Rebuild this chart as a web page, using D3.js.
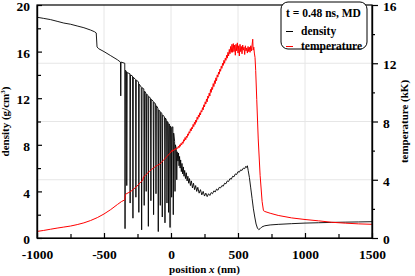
<!DOCTYPE html>
<html>
<head>
<meta charset="utf-8">
<script src="https://cdn.jsdelivr.net/npm/d3@7"></script>
<style>
  body { margin: 0; background: #fff; }
  svg text { font-family: "Liberation Serif", "Times New Roman", serif; font-weight: bold; }
</style>
</head>
<body>
<div id="my_dataviz"></div>
<script>
// position x (nm) / density (g/cm3) pairs
var densityPts = [
    [-1000, 18.95], [-950, 18.85], [-900, 18.75], [-850, 18.6], [-800, 18.45], [-750, 18.35],
    [-700, 18.2], [-650, 18.05], [-600, 17.85], [-570, 17.7], [-558, 17.6], [-552, 16.4],
    [-540, 16.25], [-500, 16.0], [-450, 15.65], [-400, 15.3], [-377, 15.1], [-375, 12.2],
    [-373, 15.1], [-345, 15.0],
    // comb of voids
    [-343, 0.8], [-340, 14.4], [-332, 14.3], [-330, 4.5], [-327, 14.2], [-307, 14.1], [-305, 3.0],
    [-302, 14.0], [-287, 13.9], [-284, 1.7], [-281, 13.8], [-264, 13.6], [-262, 3.5], [-259, 13.55],
    [-242, 13.4], [-240, 2.2], [-237, 13.2], [-222, 12.95], [-219, 0.7], [-216, 12.9], [-203, 12.8],
    [-200, 2.8], [-197, 12.6], [-188, 12.45], [-185, 4.0], [-182, 12.35], [-172, 12.25], [-169, 1.0],
    [-166, 12.15], [-153, 12.0], [-150, 3.2], [-147, 11.9], [-133, 11.75], [-130, 2.0], [-127, 11.65],
    [-115, 11.5], [-112, 3.8], [-109, 11.35], [-98, 11.15], [-95, 0.55], [-92, 11.0], [-83, 10.9],
    [-80, 2.8], [-77, 10.8], [-68, 10.7], [-65, 1.8], [-62, 10.55], [-48, 10.4], [-45, 1.3],
    [-42, 10.3], [-33, 10.1], [-30, 3.0], [-27, 10.0], [-21, 9.9], [-18, 2.2], [-15, 9.8],
    [-10, 9.7], [-7, 0.9], [-4, 9.6], [2, 9.5], [5, 3.5], [8, 9.5], [14, 9.55], [17, 2.0],
    [20, 9.0], [27, 8.3], [30, 4.0], [33, 8.0], [40, 7.6], [43, 5.0], [46, 7.4],
    // noisy decay and hump
    [52, 6.6], [56, 7.3], [60, 6.2], [64, 7.0], [68, 6.0], [72, 6.7], [77, 5.7], [82, 6.4],
    [87, 5.5], [92, 6.1], [97, 5.3], [102, 5.8], [108, 5.1], [114, 5.6], [120, 4.9], [126, 5.3],
    [132, 4.7], [138, 5.1], [145, 4.5], [152, 4.9], [160, 4.3], [168, 4.7], [176, 4.15], [184, 4.5],
    [192, 4.0], [200, 4.35], [210, 3.85], [220, 4.15], [230, 3.7], [240, 4.0], [250, 3.6], [260, 3.85],
    [270, 3.55], [280, 3.8], [290, 3.65], [300, 3.9], [310, 3.8], [320, 4.05], [330, 3.95], [340, 4.2],
    [350, 4.1], [360, 4.35], [370, 4.3], [380, 4.5], [390, 4.45], [400, 4.7], [410, 4.65], [420, 4.9],
    [430, 4.85], [440, 5.1], [450, 5.05], [460, 5.3], [470, 5.25], [480, 5.5], [490, 5.45], [500, 5.7],
    [510, 5.65], [520, 5.85], [530, 5.8], [540, 6.0], [550, 5.95], [558, 6.15], [565, 6.05], [570, 6.2],
    [576, 5.8], [585, 5.2], [595, 4.3], [605, 3.4], [615, 2.5], [625, 1.8], [635, 1.2], [645, 0.85],
    [655, 0.72], [665, 0.8], [678, 0.95], [700, 1.05], [740, 1.12], [800, 1.17], [900, 1.23],
    [1000, 1.28], [1100, 1.31], [1200, 1.34], [1300, 1.36], [1400, 1.38], [1500, 1.4]
];

// position x (nm) / temperature (kK) pairs
var temperaturePts = [
    [-1000, 0.45], [-950, 0.52], [-900, 0.6], [-850, 0.68], [-800, 0.75], [-750, 0.82], [-700, 0.92],
    [-650, 1.04], [-600, 1.2], [-550, 1.4], [-500, 1.65], [-450, 1.95], [-400, 2.3], [-370, 2.5],
    [-345, 2.62], [-340, 3.0], [-320, 3.1], [-300, 3.2], [-280, 3.35], [-260, 3.5], [-240, 3.7],
    [-225, 3.85], [-210, 3.98], [-205, 4.2], [-190, 4.3], [-180, 4.4], [-170, 4.5], [-160, 4.6],
    [-150, 4.65], [-140, 4.75], [-130, 4.8], [-120, 4.9], [-110, 4.95], [-100, 5.0], [-90, 5.05],
    [-80, 5.1], [-70, 5.2], [-60, 5.3], [-50, 5.4], [-40, 5.5], [-30, 5.6], [-20, 5.7], [-10, 5.8],
    [0, 5.9], [5, 6.0], [10, 5.95], [15, 6.05], [20, 6.0], [25, 6.1], [30, 6.05], [35, 6.15],
    [40, 6.1], [45, 6.2], [50, 6.15], [55, 6.3], [60, 6.2], [65, 6.4], [70, 6.3], [75, 6.5],
    [80, 6.4], [85, 6.6], [90, 6.5], [95, 6.75], [100, 6.65], [105, 6.9], [110, 6.75], [115, 7.0],
    [120, 6.9], [125, 7.15], [130, 7.05], [135, 7.3], [140, 7.2], [145, 7.5], [150, 7.35], [155, 7.6],
    [160, 7.5], [165, 7.8], [170, 7.65], [175, 7.95], [180, 7.8], [185, 8.1], [190, 7.95], [195, 8.3],
    [200, 8.15], [205, 8.45], [210, 8.3], [215, 8.6], [220, 8.45], [225, 8.75], [230, 8.65], [235, 8.95],
    [240, 8.8], [245, 9.15], [250, 9.0], [255, 9.35], [260, 9.2], [265, 9.55], [270, 9.35], [275, 9.75],
    [280, 9.6], [285, 9.95], [290, 9.75], [295, 10.2], [300, 10.0], [305, 10.35], [310, 10.2],
    [315, 10.6], [320, 10.4], [325, 10.8], [330, 10.6], [335, 11.0], [340, 10.8], [345, 11.2],
    [350, 11.05], [355, 11.4], [360, 11.25], [365, 11.6], [370, 11.45], [375, 11.8], [380, 11.65],
    [385, 12.0], [390, 11.85], [395, 12.2], [400, 12.0], [405, 12.35], [410, 12.2], [415, 12.55],
    [420, 12.35], [425, 12.75], [430, 12.5], [435, 12.95], [440, 12.65], [445, 13.15], [450, 12.75],
    [455, 13.3], [460, 12.75], [465, 13.35], [470, 12.8], [475, 13.25], [480, 12.55], [485, 13.3],
    [490, 12.85], [495, 13.4], [500, 12.7], [505, 13.2], [510, 12.5], [515, 13.3], [520, 12.8],
    [525, 13.15], [530, 12.65], [535, 13.25], [540, 12.9], [545, 13.1], [550, 12.6], [555, 13.2],
    [560, 12.85], [565, 13.05], [570, 12.7], [575, 13.15], [580, 12.8], [585, 13.1], [590, 12.75],
    [595, 13.2], [600, 12.85], [605, 13.25], [610, 13.65], [613, 12.9], [618, 13.1], [622, 12.7],
    [627, 12.4], [632, 11.5], [640, 9.5], [651, 6.8], [665, 4.3], [680, 2.5], [690, 1.88],
    [700, 1.82], [740, 1.7], [800, 1.55], [900, 1.38], [1000, 1.27], [1100, 1.18], [1200, 1.08],
    [1300, 1.02], [1400, 0.97], [1500, 0.94]
];

var xTicks = [-1000, -500, 0, 500, 1000, 1500];
var xMinor = [-750, -250, 250, 750, 1250];
var densTicks = [0, 4, 8, 12, 16, 20];
var densMinor = [2, 6, 10, 14, 18];
var tempTicks = [0, 4, 8, 12, 16];
var tempMinor = [2, 6, 10, 14];
var legendTitle = "t = 0.48 ns, MD";
var seriesNames = ["density", "temperature"];

function visualize() {
    var W = 415, H = 276;
    var margin = { top: 5, right: 43, bottom: 38, left: 37 },
        width = W - margin.left - margin.right,
        height = H - margin.top - margin.bottom;

    var svg = d3.select("#my_dataviz")
        .append("svg")
        .attr("width", W)
        .attr("height", H)
        .append("g")
        .attr("transform", "translate(" + margin.left + "," + margin.top + ")");

    var x = d3.scaleLinear().domain([-1000, 1500]).range([0, width]);
    var yD = d3.scaleLinear().domain([0, 20]).range([height, 0]);
    var yT = d3.scaleLinear().domain([0, 16]).range([height, 0]);

    // plain numbers, hyphen minus, no thousands separator
    var fmt = function(d) { return String(d); };

    // light grid (x majors, temperature majors)
    svg.selectAll("vgrid")
        .data(xTicks.slice(1, -1))
        .enter().append("line")
        .attr("x1", function(d) { return x(d); }).attr("x2", function(d) { return x(d); })
        .attr("y1", 0).attr("y2", height)
        .style("stroke", "#e6e6e6").style("stroke-width", 1);
    svg.selectAll("hgrid")
        .data(tempTicks.slice(1, -1))
        .enter().append("line")
        .attr("x1", 0).attr("x2", width)
        .attr("y1", function(d) { return yT(d); }).attr("y2", function(d) { return yT(d); })
        .style("stroke", "#e6e6e6").style("stroke-width", 1);

    // lines
    var lineD = d3.line().x(function(d) { return x(d[0]); }).y(function(d) { return yD(d[1]); });
    var lineT = d3.line().x(function(d) { return x(d[0]); }).y(function(d) { return yT(d[1]); });

    svg.append("path")
        .attr("d", lineD(densityPts))
        .style("fill", "none").style("stroke", "#000").style("stroke-width", 0.9);
    svg.append("path")
        .attr("d", lineT(temperaturePts))
        .style("fill", "none").style("stroke", "#ff0000").style("stroke-width", 1);

    // axes
    svg.append("g")
        .attr("transform", "translate(0," + height + ")")
        .call(d3.axisBottom(x).tickValues(xTicks).tickFormat(fmt).tickSize(-5).tickSizeOuter(0).tickPadding(11));
    svg.append("g")
        .attr("transform", "translate(0," + height + ")")
        .call(d3.axisBottom(x).tickValues(xMinor).tickSize(-4).tickSizeOuter(0).tickFormat(""));
    svg.append("g")
        .call(d3.axisLeft(yD).tickValues(densTicks).tickFormat(fmt).tickSize(-5).tickSizeOuter(0).tickPadding(7));
    svg.append("g")
        .call(d3.axisLeft(yD).tickValues(densMinor).tickSize(-4).tickSizeOuter(0).tickFormat(""));
    svg.append("g")
        .attr("transform", "translate(" + width + ",0)")
        .call(d3.axisRight(yT).tickValues(tempTicks).tickFormat(fmt).tickSize(6).tickSizeOuter(0).tickPadding(5));
    svg.append("g")
        .attr("transform", "translate(" + width + ",0)")
        .call(d3.axisRight(yT).tickValues(tempMinor).tickSize(3).tickSizeOuter(0).tickFormat(""));

    svg.selectAll(".tick text")
        .style("font-family", "'Liberation Serif', 'Times New Roman', serif")
        .style("font-weight", "bold")
        .style("font-size", "13.5px")
        .style("fill", "#000");
    // nudge vertical-axis labels a touch down, as in the reference
    svg.selectAll(".tick text").filter(function() { return d3.select(this).attr("x") !== null && +d3.select(this).attr("x") !== 0; })
        .attr("dy", "0.42em");
    svg.selectAll(".domain, .tick line").style("stroke", "#000").style("stroke-width", 1.2);

    // frame
    svg.append("rect")
        .attr("width", width).attr("height", height)
        .style("fill", "none").style("stroke", "#000").style("stroke-width", 1.2);

    // axis titles
    svg.append("text")
        .attr("transform", "translate(" + (-28) + "," + (height / 2) + ") rotate(-90)")
        .attr("text-anchor", "middle")
        .style("font-size", "11px")
        .html("density (g/cm<tspan dy='-4' font-size='7px'>3</tspan><tspan dy='4'>)</tspan>");
    svg.append("text")
        .attr("transform", "translate(" + (width + 36) + "," + (height / 2) + ") rotate(-90)")
        .attr("text-anchor", "middle")
        .style("font-size", "11px")
        .text("temperature (kK)");
    svg.append("text")
        .attr("x", width / 2).attr("y", height + 34.5)
        .attr("text-anchor", "middle")
        .style("font-size", "11px")
        .html("position <tspan font-style='italic'>x</tspan> (nm)");

    // legend
    var lg = svg.append("g").attr("transform", "translate(" + (x(1500) - 91) + ",-3)");
    lg.append("rect")
        .attr("x", 0).attr("y", 0).attr("width", 86).attr("height", 47)
        .attr("rx", 7).attr("ry", 7)
        .style("fill", "#fff").style("stroke", "#000").style("stroke-width", 1);
    lg.append("text").attr("x", 5).attr("y", 15).style("font-size", "11.5px").text(legendTitle);
    var legColors = ["#000", "#ff0000"];
    seriesNames.forEach(function(name, i) {
        var yy = 29.5 + i * 15;
        lg.append("line")
            .attr("x1", 5).attr("x2", 12).attr("y1", yy).attr("y2", yy)
            .style("stroke", legColors[i]).style("stroke-width", 1);
        lg.append("text").attr("x", 20).attr("y", yy + 3.5).style("font-size", "11.5px").text(name);
    });
}

visualize();
</script>
</body>
</html>
